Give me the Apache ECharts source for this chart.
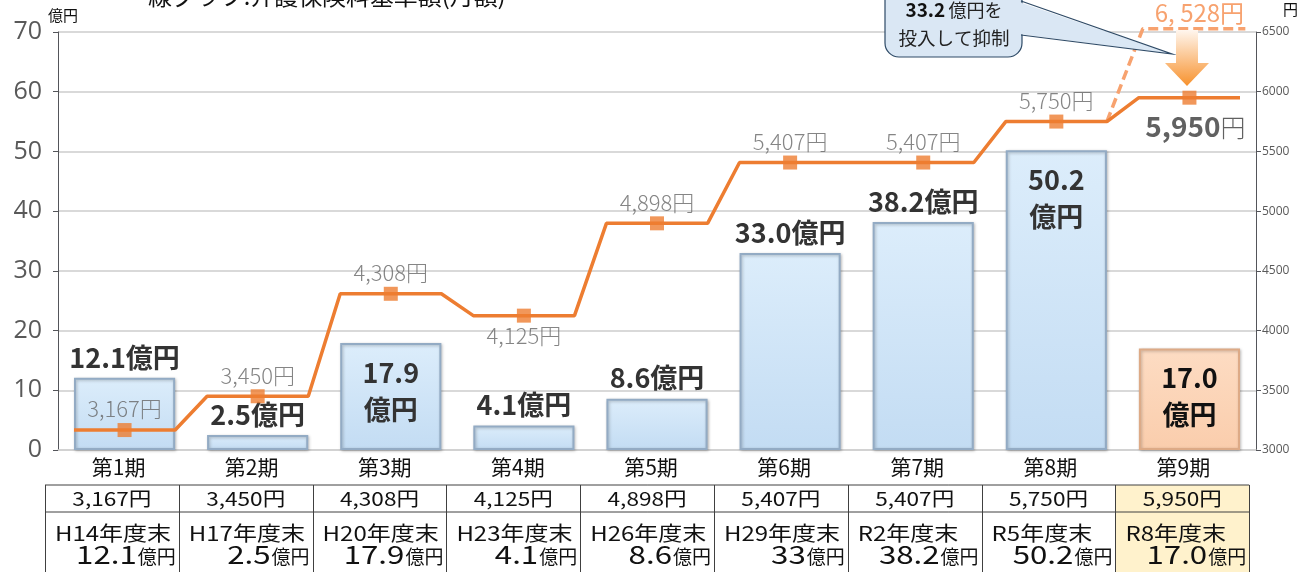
<!DOCTYPE html>
<html>
<head>
<meta charset="utf-8">
<script src="https://cdn.jsdelivr.net/npm/echarts@6/dist/echarts.min.js"></script>
<style>
  html, body { margin: 0; padding: 0; background: #fff; }
  #chart { width: 1300px; height: 572px; }
</style>
</head>
<body>
<div id="chart"></div>
<script>
// データ
const periods = ['第1期', '第2期', '第3期', '第4期', '第5期', '第6期', '第7期', '第8期', '第9期'];
const fundValues = [12.1, 2.5, 17.9, 4.1, 8.6, 33.0, 38.2, 50.2, 17.0];   // 億円
const premiums = [3167, 3450, 4308, 4125, 4898, 5407, 5407, 5750, 5950]; // 円
const unsuppressedPremium = 6528;
const injectedFund = 33.2;
const fiscalYears = ['H14年度末', 'H17年度末', 'H20年度末', 'H23年度末', 'H26年度末', 'H29年度末', 'R2年度末', 'R5年度末', 'R8年度末'];
const fundTableText = ['12.1', '2.5', '17.9', '4.1', '8.6', '33', '38.2', '50.2', '17.0'];
const leftTicks = [0, 10, 20, 30, 40, 50, 60, 70];
const rightTicks = [3000, 3500, 4000, 4500, 5000, 5500, 6000, 6500];

const FONT = '"Noto Sans CJK JP", "Noto Sans", sans-serif';
const ORANGE = '#ED7D31';
const insideLabelIdx = [2, 7, 8];
const belowLabelIdx = [3];
const EDGE = 0.12; // 棒の端(カテゴリ幅に対する割合)

const yen = v => v.toLocaleString('en-US');

let chart = echarts.init(document.getElementById('chart'));

// 階段状の折れ線 (棒の左右端で水平)
const stepLine = premiums.flatMap((v, i) => [[i + EDGE, v], [i + 1 - EDGE, v]]);
const dashedLine = [
    { value: [7 + 1 - EDGE, premiums[7]] },
    { value: [8 + EDGE + 0.03, unsuppressedPremium] },
    { value: [8.5, unsuppressedPremium], label: { show: true } },
    { value: [8 + 1 - EDGE + 0.04, unsuppressedPremium] }
];

const barBlue = new echarts.graphic.LinearGradient(0, 0, 0, 1, [
    { offset: 0, color: '#DCEDFB' },
    { offset: 1, color: '#C3DCF3' }
]);
const barPeach = new echarts.graphic.LinearGradient(0, 0, 0, 1, [
    { offset: 0, color: '#FDDCC3' },
    { offset: 1, color: '#FACDAC' }
]);

const barData = fundValues.map((v, i) => {
    const last = i === fundValues.length - 1;
    const item = {
        value: v,
        itemStyle: last
            ? { color: barPeach, borderColor: '#DDAA86' }
            : { color: barBlue, borderColor: '#93ABC4' }
    };
    if (insideLabelIdx.includes(i)) {
        item.label = {
            position: 'insideTop',
            distance: 11,
            formatter: v.toFixed(1) + '\n億円',
            lineHeight: 37,
            color: last ? '#111' : '#333'
        };
    }
    return item;
});

const markerData = premiums.map((v, i) => {
    const item = { value: [i + 0.5, v] };
    if (belowLabelIdx.includes(i)) {
        item.label = { position: 'bottom', distance: 2 };
    }
    if (i === premiums.length - 1) {
        item.label = {
            position: 'bottom',
            distance: 8,
            offset: [6, 0],
            formatter: p => '{b|' + yen(p.value[1]) + '}{n|円}',
            rich: {
                b: { fontSize: 28, fontWeight: 'bold', color: '#3a3a3a', fontFamily: FONT },
                n: { fontSize: 25, color: '#3a3a3a', fontFamily: FONT, fontWeight: 300, padding: [2, 0, 0, 0] }
            }
        };
    }
    return item;
});

// 表 (グラフ下) — 元図の文字は横長なので scaleX で合わせる
function buildTable() {
    const els = [];
    const left = 45, colW = 133.8, top = 485, mid = 512, bottom = 572;
    const n = periods.length;
    const right = left + colW * n;
    els.push({ type: 'rect', shape: { x: left + colW * (n - 1), y: top, width: colW, height: bottom - top }, style: { fill: '#FFF2CC' } });
    els.push({ type: 'line', shape: { x1: left, y1: top, x2: right, y2: top }, style: { stroke: '#404040', lineWidth: 1 } });
    els.push({ type: 'line', shape: { x1: left, y1: mid, x2: right, y2: mid }, style: { stroke: '#404040', lineWidth: 1 } });
    for (let i = 0; i <= n; i++) {
        const x = Math.round(left + colW * i) + 0.5;
        els.push({ type: 'line', shape: { x1: x, y1: top, x2: x, y2: bottom }, style: { stroke: '#404040', lineWidth: 1 } });
    }
    for (let i = 0; i < n; i++) {
        const x0 = left + colW * i;
        els.push({
            type: 'text', x: x0 + colW / 2, y: 499, scaleX: 1.19,
            style: { text: yen(premiums[i]) + '円', fill: '#111', font: '19px ' + FONT, align: 'center', verticalAlign: 'middle' }
        });
        els.push({
            type: 'text', x: x0 + 10, y: 533, scaleX: 1.2,
            style: { text: fiscalYears[i], fill: '#111', font: '20px ' + FONT, align: 'left', verticalAlign: 'middle' }
        });
        els.push({
            type: 'text', x: x0 + colW - 3, y: 557,
            style: { text: '億円', fill: '#111', font: '19px ' + FONT, align: 'right', verticalAlign: 'middle' }
        });
        els.push({
            type: 'text', x: x0 + colW - 42, y: 554, scaleX: 1.25,
            style: { text: fundTableText[i], fill: '#111', font: '25px ' + FONT, align: 'right', verticalAlign: 'middle' }
        });
    }
    return els;
}

const option = {
    animation: false,
    textStyle: { fontFamily: FONT },
    grid: { left: 58, right: 44, top: 32, bottom: 122 },
    xAxis: [
        {
            type: 'category',
            data: periods,
            axisTick: { show: false },
            axisLine: { lineStyle: { color: '#D0D0D0', width: 1.5 } },
            axisLabel: { fontSize: 21, color: '#111', margin: 7, fontFamily: FONT, padding: [0, 12, 0, 0] }
        },
        { type: 'value', min: 0, max: periods.length, show: false }
    ],
    yAxis: [
        {
            type: 'value',
            min: leftTicks[0], max: leftTicks[leftTicks.length - 1], interval: leftTicks[1] - leftTicks[0],
            axisLabel: { fontSize: 25, color: '#595959', margin: 16, fontFamily: 'Open Sans, sans-serif' },
            splitLine: { lineStyle: { color: '#D9D9D9', width: 2 } }
        },
        {
            type: 'value',
            position: 'right',
            min: rightTicks[0], max: rightTicks[rightTicks.length - 1], interval: rightTicks[1] - rightTicks[0],
            axisLabel: { fontSize: 12, color: '#595959', margin: 6, fontFamily: 'Open Sans, sans-serif', formatter: v => String(v) },
            splitLine: { show: false }
        }
    ],
    series: [
        {
            name: '基金残高',
            type: 'bar',
            barWidth: (1 - EDGE * 2) * 100 + '%',
            data: barData,
            itemStyle: { borderWidth: 2, shadowColor: 'rgba(0,0,0,0.25)', shadowBlur: 3, shadowOffsetX: 1, shadowOffsetY: 1 },
            label: {
                show: true,
                position: 'top',
                distance: 7,
                fontSize: 27,
                fontWeight: 'bold',
                color: '#333',
                fontFamily: FONT,
                formatter: p => p.value.toFixed(1) + '億円'
            },
            z: 2
        },
        {
            name: '抑制前',
            type: 'line',
            xAxisIndex: 1, yAxisIndex: 1,
            data: dashedLine,
            clip: false,
            symbol: 'circle',
            symbolSize: 0,
            showSymbol: true,
            itemStyle: { color: '#F7A26F' },
            lineStyle: { color: '#F7A26F', width: 3.5, type: [10, 5] },
            label: {
                show: false,
                position: 'top',
                distance: 4,
                offset: [10, 0],
                fontSize: 24,
                color: '#F7A26F',
                fontFamily: FONT,
                formatter: p => yen(p.value[1]).replace(',', ', ') + '円'
            },
            z: 3
        },
        {
            name: '保険料基準額',
            type: 'line',
            xAxisIndex: 1, yAxisIndex: 1,
            data: stepLine,
            symbol: 'none',
            lineStyle: { color: ORANGE, width: 3.5 },
            z: 4
        },
        {
            name: '保険料基準額(点)',
            type: 'scatter',
            xAxisIndex: 1, yAxisIndex: 1,
            data: markerData,
            symbol: 'rect',
            symbolSize: 14,
            itemStyle: { color: ORANGE },
            label: {
                show: true,
                position: 'top',
                distance: 3,
                fontSize: 22,
                fontWeight: 300,
                color: '#666',
                fontFamily: FONT,
                formatter: p => yen(p.value[1]) + '円'
            },
            z: 5
        }
    ],
    graphic: [
        {
            type: 'text', left: 148, top: -15, scaleX: 1.04,
            style: { text: '線グラフ:介護保険料基準額(月額)', font: '23px ' + FONT, fill: '#111' }
        },
        { type: 'text', left: 48, top: 8, style: { text: '億円', font: '15px ' + FONT, fill: '#111' } },
        { type: 'text', left: 1283, top: 2, style: { text: '円', font: '15px ' + FONT, fill: '#111' } },
        // 吹き出し
        {
            type: 'rect', shape: { x: 885, y: -20, width: 137, height: 77, r: 14 },
            style: { fill: '#DAE7F4', stroke: '#2E4A66', lineWidth: 1.2 }, z: 10
        },
        {
            type: 'polygon', shape: { points: [[1019, 2], [1172, 54], [1019, 34]] },
            style: { fill: '#DAE7F4' }, z: 11
        },
        {
            type: 'polyline', shape: { points: [[1021, 1], [1172, 54], [1021, 35]] },
            style: { stroke: '#2E4A66', lineWidth: 1.2, fill: null }, z: 11
        },
        {
            type: 'text', x: 954, y: 10, z: 12,
            style: {
                text: '{a|' + injectedFund.toFixed(1) + '} {b|億円を}',
                align: 'center', verticalAlign: 'middle',
                rich: {
                    a: { fontSize: 19, fontWeight: 'bold', fill: '#111', fontFamily: FONT },
                    b: { fontSize: 18, fill: '#222', fontFamily: FONT }
                }
            }
        },
        {
            type: 'text', x: 954, y: 38, z: 12, scaleX: 1.03,
            style: { text: '投入して抑制', font: '18px ' + FONT, fill: '#222', align: 'center', verticalAlign: 'middle' }
        },
        // 矢印
        {
            type: 'polygon', z: 12,
            shape: { points: [[1176, 30], [1198, 30], [1198, 63], [1209, 63], [1187, 86], [1165, 63], [1176, 63]] },
            style: {
                fill: new echarts.graphic.LinearGradient(0, 0, 0, 1, [
                    { offset: 0, color: '#FFF6EE' },
                    { offset: 1, color: '#F7922E' }
                ])
            }
        }
    ].concat(buildTable())
};

chart.setOption(option);
</script>
</body>
</html>
